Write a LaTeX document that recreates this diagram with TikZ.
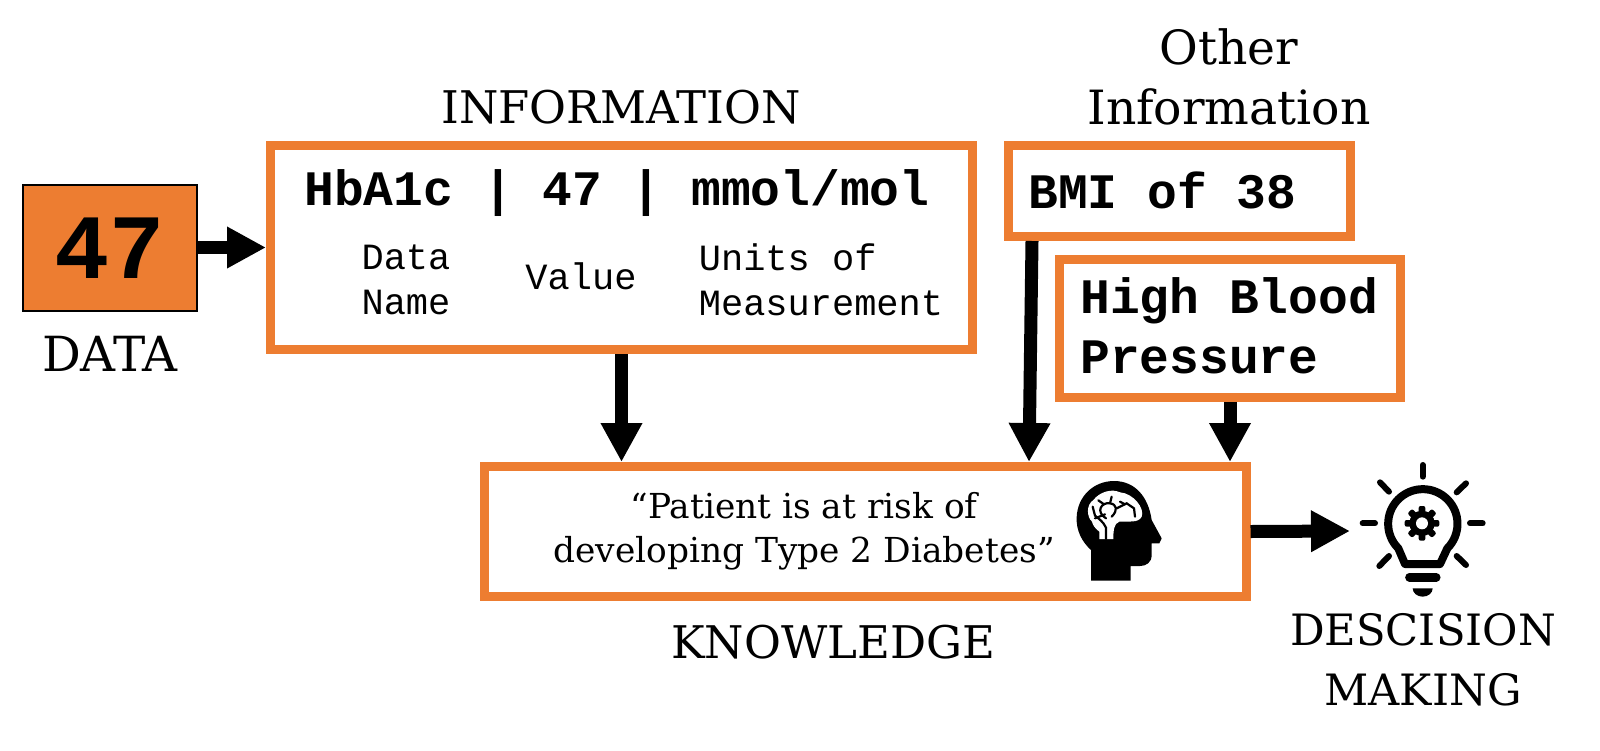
\documentclass[tikz,border=0pt]{standalone}
\usepackage{fontspec}
\setmainfont{DejaVu Serif}
\setmonofont{Liberation Mono}
\usetikzlibrary{positioning,arrows.meta}
\definecolor{boxorange}{HTML}{ED7D31}

\begin{document}
\begin{tikzpicture}[x=.5pt, y=-.5pt]
\tikzset{
    every node/.style = {inner sep=0pt, align=center},
    orangebox/.style = {draw=boxorange, line width=4.5pt, fill=white, rectangle},
    bigtext/.style = {font=\fontsize{#1}{30}\selectfont},
    bigtext/.default = 22.5,
    quotetext/.style = {font=\fontsize{17.2}{22.2}\selectfont},
    codetext/.style = {font=\fontsize{24.8}{30}\selectfont\ttfamily\bfseries},
    smalltext/.style = {font=\fontsize{18.5}{22.5}\selectfont\ttfamily, align=left},
    bigarrow/.style = {draw, line width=6.5pt, -{Triangle[length=19.5pt, width=19.5pt]}},
    vein/.style = {draw, line width=1.1pt, line cap=round}
}
\useasboundingbox (0,0) rectangle (1600,750);

% -------------------------------------------------------
\node[draw, line width=1pt, fill=boxorange, minimum width=87pt, minimum height=63pt] (data) at (110,247.5) {};
\node[font=\fontsize{46}{46}\selectfont\ttfamily\bfseries] (fortyseven) at (110,248) {47};
\node[bigtext=24.2, below=12pt of data] (datalabel) {DATA};

\node[orangebox, minimum width=351pt, minimum height=102pt] (info) at (621.5,247.5) {};
\node[bigtext] (infolabel) at (621,107) {INFORMATION};
\node[codetext] (infotitle) at (617,193) {HbA1c | 47 | mmol/mol};
\node[smalltext] (dataname) at (406,280) {Data\\Name};
\node[smalltext] (value) at (581,276) {Value};
\node[smalltext] (units) at (821,280) {Units of\\Measurement};

\node[orangebox, minimum width=171pt, minimum height=45.5pt] (bmi) at (1179.5,191) {};
\node[codetext, anchor=west] (bmitext) at (1028,190) {BMI of 38};
\node[bigtext=23.6] (otherlabel) at (1229,77) {Other\\Information};

\node[orangebox, minimum width=170.5pt, minimum height=69pt] (pressure) at (1230,328.5) {};
\node[codetext, align=left, anchor=west] (pressuretext) at (1080,326) {High Blood\\Pressure};

\node[orangebox, minimum width=381pt, minimum height=65pt] (know) at (865,531.5) {};
\node[quotetext] (knowtext) at (804,531) {“Patient is at risk of\\developing Type 2 Diabetes”};
\node[bigtext] (knowlabel) at (833,642) {KNOWLEDGE};

\node[bigtext=21.6] (decision) at (1423,660) {DESCISION\\MAKING};

% -------------------------------------------------------
\begin{scope}[shift={(1040,440)}, scale=1/3]
    % head
    \fill (153,422) -- (153,330) .. controls (125,305) and (108,270) .. (110,232)
        .. controls (112,170) and (160,123) .. (222,123)
        .. controls (285,123) and (325,170) .. (335,240)
        -- (365,295) -- (358,310) -- (335,310) -- (335,345)
        .. controls (335,368) and (318,378) .. (300,378)
        -- (272,378) -- (272,422) -- cycle;
    % brain
    \begin{scope}[shift={(90,105)}]
        \fill[white] (88,192) -- (88,170) .. controls (75,160) and (68,150) .. (66,140)
            .. controls (50,125) and (48,90) .. (70,75)
            .. controls (90,50) and (125,40) .. (150,52)
            .. controls (190,55) and (225,100) .. (215,125)
            .. controls (205,145) and (175,138) .. (148,140)
            .. controls (132,145) and (130,165) .. (130,192) -- cycle;
        \draw[vein] (108,192) -- (108,158) .. controls (100,140) and (85,130) .. (75,122) -- (68,95);
        \draw[vein] (108,130) .. controls (75,110) and (95,80) .. (120,85)
            .. controls (140,88) and (145,105) .. (125,125);
        \draw[vein] (120,85) -- (125,65);
        \draw[vein] (85,76) -- (102,88);
        \draw[vein] (75,130) -- (105,118);
        \draw[vein] (140,100) -- (170,85) -- (192,100) -- (195,125);
        \draw[vein] (150,80) -- (165,88);
    \end{scope}
    % bulb
    \draw[line width=4pt, line join=round] (1095,372) -- (1200,372) -- (1222,325)
        arc (45:-225:104) -- cycle;
    \fill (1146,250) circle (38);
    \foreach \a in {0,45,...,315} {
        \fill[rotate around={\a:(1146,250)}, rounded corners=1pt] (1136,198) rectangle (1156,230);
    }
    \fill[white] (1146,250) circle (18);
    \draw[line width=4.2pt, line cap=round] (1108,412) -- (1189,412);
    \fill (1118,445) -- (1178,445) arc (0:180:30 and 25) -- cycle;
    \foreach \xa/\ya/\xb/\yb in {1148/75/1148/110, 968/250/1005/250, 1290/250/1328/250,
        1020/127/1047/155, 1278/130/1250/157, 1018/378/1047/348, 1278/375/1250/348} {
        \draw[line width=3pt, line cap=round] (\xa,\ya) -- (\xb,\yb);
    }
\end{scope}

% -------------------------------------------------------
\coordinate (bmifoot) at (1032,241);
\coordinate (bmitip) at (1029,462);
\coordinate (bulbleft) at (1350,531);

\path[bigarrow] (data.east) -- (data.east -| info.west);
\path[bigarrow] (info.south) -- (info.south |- know.north);
\path[bigarrow] (bmifoot) -- (bmitip);
\path[bigarrow] (pressure.south) -- (pressure.south |- know.north);
\path[bigarrow] (know.east) -- (bulbleft);
\end{tikzpicture}
\end{document}
